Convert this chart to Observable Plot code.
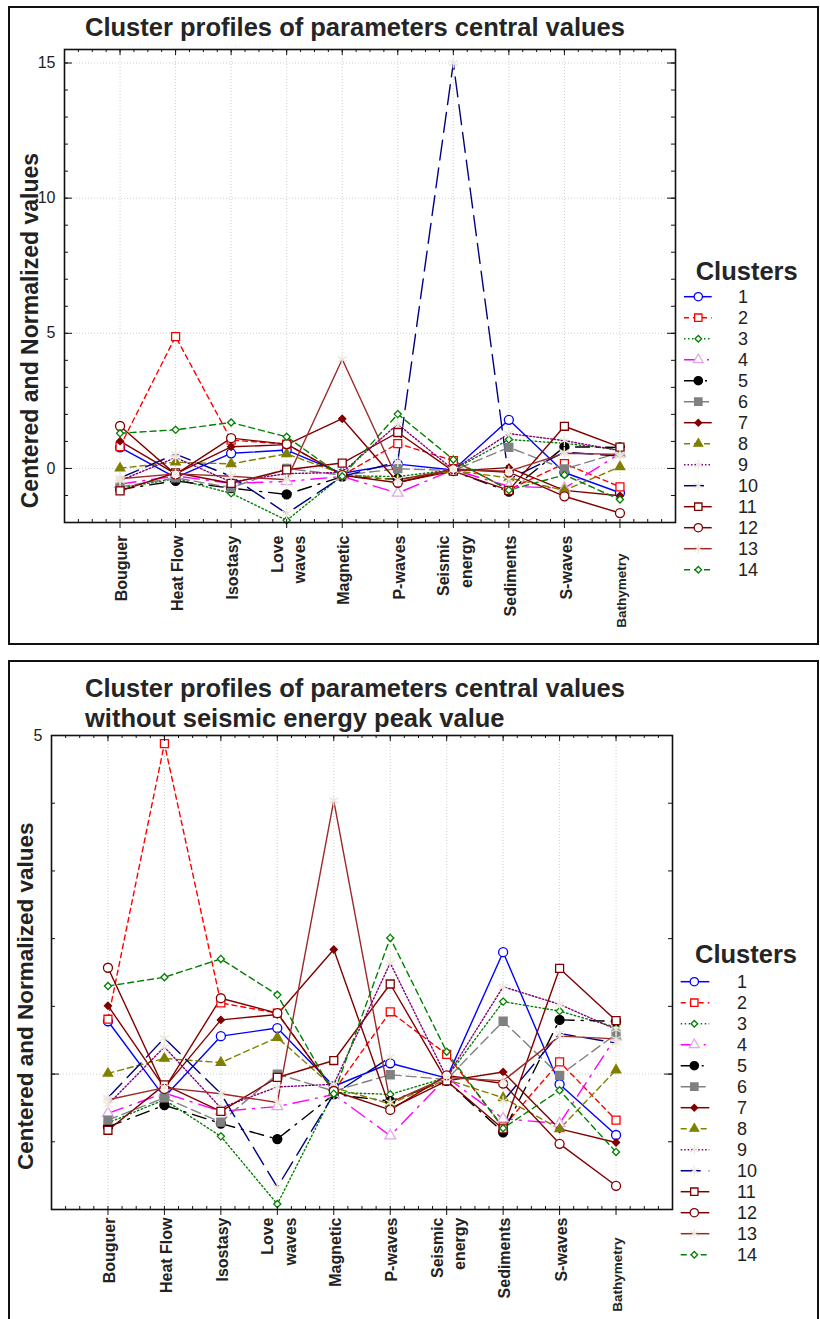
<!DOCTYPE html>
<html>
<head>
<meta charset="utf-8">
<script src="https://cdn.jsdelivr.net/npm/d3@7"></script>
<script src="https://cdn.jsdelivr.net/npm/@observablehq/plot@0.6"></script>
<style>
html,body{margin:0;padding:0;background:#fff;}
#page{position:relative;width:820px;height:1319px;overflow:hidden;background:#fff;font-family:"Liberation Sans",Arial,Helvetica,sans-serif;color:#222;}
.frame{position:absolute;border:2px solid #111;box-sizing:border-box;}
.title{position:absolute;left:85px;font-weight:bold;font-size:25.5px;line-height:30px;white-space:nowrap;color:#252525;z-index:3;}
.abs{position:absolute;z-index:2;}
</style>
</head>
<body>
<div id="page">
  <div class="frame" style="left:8px;top:6px;width:811px;height:639px;"></div>
  <div class="frame" style="left:8px;top:660px;width:811px;height:700px;"></div>
  <div id="top" class="abs" style="left:0;top:0;"></div>
  <div id="bottom" class="abs" style="left:0;top:660px;"></div>
  <div id="legTop" class="abs" style="left:660px;top:250px;"></div>
  <div id="legBottom" class="abs" style="left:660px;top:930px;"></div>
  <div class="title" style="top:12px;">Cluster profiles of parameters central values</div>
  <div class="title" style="top:673px;">Cluster profiles of parameters central values<br>without seismic energy peak value</div>
</div>
<script>
// ---------- data ----------
const categories = ["Bouguer","Heat Flow","Isostasy","Love waves","Magnetic","P-waves","Seismic energy","Sediments","S-waves","Bathymetry"];
const tickLabels = ["Bouguer","Heat Flow","Isostasy","Love\nwaves","Magnetic","P-waves","Seismic\nenergy","Sediments","S-waves","Bathymetry"];
const clusterNames = ["1","2","3","4","5","6","7","8","9","10","11","12","13","14"];
const cluster1  = [0.78,-0.34,0.56,0.68,-0.18,0.16,-0.06,1.80,-0.15,-0.90];
const cluster2  = [0.81,4.88,1.05,0.90,-0.25,0.92,0.29,-0.78,0.18,-0.68];
const cluster3  = [-0.72,-0.38,-0.92,-1.92,-0.27,-0.30,-0.05,1.07,0.93,0.69];
const cluster4  = [-0.58,-0.28,-0.55,-0.48,-0.30,-0.91,-0.05,-0.66,-0.73,0.55];
const cluster5  = [-0.78,-0.46,-0.73,-0.96,-0.30,-0.40,-0.10,-0.86,0.80,0.78];
const cluster6  = [-0.68,-0.35,-0.71,0.00,-0.25,-0.01,-0.08,0.78,-0.02,0.59];
const cluster7  = [1.01,-0.20,0.80,0.88,1.84,-0.51,-0.10,0.03,-0.81,-1.01];
const cluster8  = [0.01,0.23,0.17,0.54,-0.20,-0.44,-0.08,-0.35,-0.81,0.06];
const cluster9  = [-0.45,0.40,-0.50,-0.19,-0.15,1.64,-0.05,1.29,1.03,0.66];
const cluster10 = [-0.35,0.53,-0.29,-1.67,-0.30,0.25,15.0,-0.40,0.60,0.46];
const cluster11 = [-0.83,-0.16,-0.55,-0.05,0.20,1.33,-0.10,-0.81,1.56,0.79];
const cluster12 = [1.57,-0.22,1.12,0.90,-0.25,-0.53,-0.02,-0.14,-1.03,-1.65];
const cluster13 = [-0.38,-0.20,-0.29,-0.42,4.04,-0.42,-0.05,-0.10,0.56,0.52];
const cluster14 = [1.30,1.43,1.70,1.17,-0.29,2.01,0.33,-0.80,-0.24,-1.15];
const yTickLabelsTop = [0,5,10,15];
const yTickLabelsBottom = [5];
const yGridTop = [0,5,10,15];
const yGridBottom = [0,5];

// ---------- styles ----------
const colors = ["#0000ff","#ff0000","#008000","#ff00ff","#000000","#808080","#800000","#808000","#800080","#000080","#800000","#800000","#9c2a2a","#008000"];
const dashes = [null,"5,4","1.5,2.5","16,7,2,7","14,7,2,7","10,5",null,"6,4","1.5,2","20,8",null,null,null,"6,4"];
const symbols = ["circle","square","diamond2","triangle","circle","square","diamond2","triangle","asterisk","asterisk","square","circle","asterisk","diamond2"];
const markerFills = ["#fff","#fff","#fff","#fff","#000","#808080","#800000","#808000","none","none","#fff","#fff","none","#fff"];
const markerStrokes = ["#0000ff","#ff0000","#008000","#e0a8e8","#000","#808080","#800000","#808000","#ebe7dc","#ebe7dc","#800000","#800000","#ebe7dc","#008000"];
const markerR = [4.5,4.5,3.2,4,4.5,4.5,3.2,3.5,5,5,4.5,4.5,5,3.2];

const allSeries = [cluster1,cluster2,cluster3,cluster4,cluster5,cluster6,cluster7,cluster8,cluster9,cluster10,cluster11,cluster12,cluster13,cluster14];
// second chart: cluster 10 seismic energy peak removed
const peakIndex = categories.indexOf("Seismic energy");
const seriesNoPeak = allSeries.map((s,k) => k === 9 ? s.map((v,i) => i === peakIndex ? null : v) : s);

const FONT = '"Liberation Sans", Arial, Helvetica, sans-serif';

function makePanel(o) {
  const pw = o.width - o.ml - o.mr, ph = o.height - o.mt - o.mb;
  const idx = d3.range(categories.length);
  const yMinor = d3.range(Math.ceil(o.yDomain[0]), Math.floor(o.yDomain[1]) + 1);
  const xMinor = d3.range(-1, categories.length + 0.001, 0.25);
  const marks = [
    Plot.ruleX(idx, {x: d => d, stroke: "#cfcfcf", strokeDasharray: "1,2"}),
    Plot.ruleY(o.yGrid, {y: d => d, stroke: "#cfcfcf", strokeDasharray: "1,2"})
  ];
  o.series.forEach((vals, k) => {
    const opts = {x: "i", y: "v", stroke: colors[k], strokeWidth: 1.4};
    if (dashes[k]) opts.strokeDasharray = dashes[k];
    marks.push(Plot.line(vals.map((v, i) => ({i, v})), opts));
  });
  o.series.forEach((vals, k) => {
    marks.push(Plot.dot(vals.map((v, i) => ({i, v})).filter(d => d.v != null), {
      x: "i", y: "v", symbol: symbols[k], r: markerR[k], fill: markerFills[k], stroke: markerStrokes[k], strokeWidth: 1.3
    }));
  });
  marks.push(Plot.frame({stroke: "#111", strokeWidth: 1.6}));
  // ticks
  marks.push(Plot.tickY(yMinor, {y: d => d, insetRight: pw - 4, stroke: "#111"}));
  marks.push(Plot.tickY(yMinor, {y: d => d, insetLeft: pw - 4, stroke: "#111"}));
  marks.push(Plot.tickY(o.yGrid, {y: d => d, insetRight: pw - 8, stroke: "#111"}));
  marks.push(Plot.tickY(o.yGrid, {y: d => d, insetLeft: pw - 8, stroke: "#111"}));
  marks.push(Plot.tickX(xMinor, {x: d => d, insetBottom: ph - 3, stroke: "#111"}));
  marks.push(Plot.tickX(idx, {x: d => d, insetBottom: ph - 6, stroke: "#111"}));
  marks.push(Plot.tickX(xMinor, {x: d => d, insetTop: ph - 3, stroke: "#111"}));
  marks.push(Plot.tickX(idx, {x: d => d, insetTop: ph, insetBottom: -6, stroke: "#111"}));
  // category labels
  const labelRows = tickLabels.map((t, i) => ({i, t}));
  const lab = {x: "i", text: "t", frameAnchor: "bottom", rotate: -90, textAnchor: "end", lineAnchor: "middle", lineHeight: 1.4, fontWeight: "bold", fill: "#222"};
  marks.push(Plot.text(labelRows.filter(d => d.t !== "Bathymetry"), {...lab, dy: o.labelDy, fontSize: 16}));
  marks.push(Plot.text(labelRows.filter(d => d.t === "Bathymetry"), {...lab, dy: o.bathDy, fontSize: 13.5}));
  // y tick labels
  marks.push(Plot.text(o.yTickLabels, {y: d => d, text: d => String(d), frameAnchor: "left", dx: -9, textAnchor: "end", fontSize: 16, fill: "#222"}));
  // y title
  marks.push(Plot.text(["Centered and Normalized values"], {y: () => o.ylabY, text: d => d, frameAnchor: "left", dx: o.ylabDx, rotate: -90, textAnchor: "middle", fontWeight: "bold", fontSize: o.ylabSize, fill: "#222"}));
  return Plot.plot({
    width: o.width, height: o.height,
    marginLeft: o.ml, marginRight: o.mr, marginTop: o.mt, marginBottom: o.mb,
    x: {type: "linear", domain: [-1, categories.length], axis: null},
    y: {domain: o.yDomain, axis: null},
    style: {background: "transparent", fontFamily: FONT, overflow: "visible"},
    marks
  });
}

document.getElementById("top").append(makePanel({
  series: allSeries, yDomain: [-2, 15.5], yGrid: yGridTop, yTickLabels: yTickLabelsTop,
  width: 686, height: 640, ml: 64, mr: 11, mt: 49, mb: 118,
  labelDy: 13, bathDy: 31, ylabDx: -34, ylabY: 5.1, ylabSize: 23
}));
document.getElementById("bottom").append(makePanel({
  series: seriesNoPeak, yDomain: [-2, 5], yGrid: yGridBottom, yTickLabels: yTickLabelsBottom,
  width: 682, height: 659, ml: 51, mr: 10, mt: 75, mb: 110,
  labelDy: 8, bathDy: 28, ylabDx: -26, ylabY: 1.15, ylabSize: 22.5
}));

// ---------- legends ----------
const symMap = {circle: d3.symbolCircle, square: d3.symbolSquare, diamond2: d3.symbolDiamond2 || d3.symbolDiamond, triangle: d3.symbolTriangle, asterisk: d3.symbolAsterisk || d3.symbolCross};
function drawLegend(el, o) {
  const svg = d3.select(el).append("svg").attr("width", 160).attr("height", 340).style("overflow", "visible").style("font-family", FONT);
  svg.append("text").attr("x", o.hx).attr("y", o.hy).attr("dy", "0.35em").attr("font-size", 25.5).attr("font-weight", "bold").attr("fill", "#252525").text("Clusters");
  clusterNames.forEach((name, k) => {
    const y = o.rowTop + k * o.step;
    const ln = svg.append("line").attr("x1", o.sx1).attr("x2", o.sx2).attr("y1", y).attr("y2", y).attr("stroke", colors[k]).attr("stroke-width", 1.5);
    if (dashes[k]) ln.attr("stroke-dasharray", dashes[k]);
    svg.append("path").attr("transform", `translate(${o.mx},${y})`)
      .attr("d", d3.symbol(symMap[symbols[k]], Math.PI * markerR[k] * markerR[k] * 0.85)())
      .attr("fill", markerFills[k]).attr("stroke", markerStrokes[k]).attr("stroke-width", 1.3);
    svg.append("text").attr("x", o.nx).attr("y", y).attr("dy", "0.35em").attr("font-size", 18).attr("fill", "#222").text(name);
  });
}
drawLegend(document.getElementById("legTop"), {hx: 35.7, hy: 20.7, rowTop: 46.7, step: 21.0, sx1: 24, sx2: 51.7, mx: 38.3, nx: 78});
drawLegend(document.getElementById("legBottom"), {hx: 35, hy: 24, rowTop: 51.7, step: 21.0, sx1: 20.7, sx2: 49.3, mx: 34.3, nx: 77});
</script>
</body>
</html>
